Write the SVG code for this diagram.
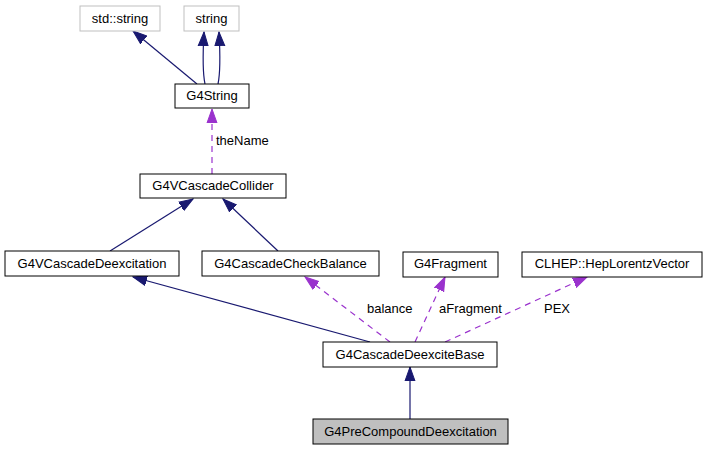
<svg xmlns="http://www.w3.org/2000/svg" width="707" height="451" viewBox="0 0 707 451">
<style>
.box{fill:#ffffff;stroke:#000000;stroke-width:1}
.gbox{fill:#ffffff;stroke:#bfbfbf;stroke-width:1}
.cur{fill:#bfbfbf;stroke:#000000;stroke-width:1}
text{font-family:"Liberation Sans",Arial,sans-serif;font-size:13px;fill:#000000}
.lbl{text-anchor:middle}
.inh{fill:none;stroke:#191970;stroke-width:1.2;marker-end:url(#navy)}
.use{fill:none;stroke:#9a32cd;stroke-width:1.2;stroke-dasharray:6,5;marker-end:url(#purple)}
</style>
<defs>
<marker id="navy" markerUnits="userSpaceOnUse" markerWidth="15" markerHeight="12" refX="14" refY="6" orient="auto"><path d="M0,1 L14,6 L0,11 z" fill="#191970" stroke="#191970"/></marker>
<marker id="purple" markerUnits="userSpaceOnUse" markerWidth="15" markerHeight="12" refX="14" refY="6" orient="auto"><path d="M0,1 L14,6 L0,11 z" fill="#9a32cd" stroke="#9a32cd"/></marker>
</defs>
<g id="connectors">
<path class="inh" d="M197,84 L133,31"/>
<path class="inh" d="M205,84 C202,70 203,50 204,32"/>
<path class="inh" d="M218,84 C221,70 220,50 219,32"/>
<path class="use" d="M212,174 L212,109"/>
<path class="inh" d="M110,251 L193,199"/>
<path class="inh" d="M278,251 L223,199"/>
<path class="inh" d="M370,342 L133,277"/>
<path class="use" d="M390,342 L305,277"/>
<path class="use" d="M415,342 L445,277"/>
<path class="use" d="M445,342 L587,277"/>
<path class="inh" d="M410,419 L410,367"/>
<text x="216" y="145">theName</text>
<text x="367" y="313">balance</text>
<text x="439" y="313">aFragment</text>
<text x="544" y="313">PEX</text>
</g>
<g id="std_string"><rect class="gbox" x="80" y="6" width="80" height="25"/><text class="lbl" x="120" y="23">std::string</text></g>
<g id="string"><rect class="gbox" x="184" y="6" width="55" height="25"/><text class="lbl" x="211.5" y="23">string</text></g>
<g id="G4String"><rect class="box" x="175" y="84" width="74" height="24"/><text class="lbl" x="212" y="100">G4String</text></g>
<g id="G4VCascadeCollider"><rect class="box" x="140" y="174" width="146" height="24"/><text class="lbl" x="213" y="190">G4VCascadeCollider</text></g>
<g id="G4VCascadeDeexcitation"><rect class="box" x="5" y="251" width="174" height="25"/><text class="lbl" x="92" y="268">G4VCascadeDeexcitation</text></g>
<g id="G4CascadeCheckBalance"><rect class="box" x="202" y="251" width="177" height="25"/><text class="lbl" x="290.5" y="268">G4CascadeCheckBalance</text></g>
<g id="G4Fragment"><rect class="box" x="403" y="252" width="95" height="25"/><text class="lbl" x="450.5" y="268">G4Fragment</text></g>
<g id="HepLorentzVector"><rect class="box" x="522" y="252" width="180" height="25"/><text class="lbl" x="612" y="268">CLHEP::HepLorentzVector</text></g>
<g id="G4CascadeDeexciteBase"><rect class="box" x="323" y="342" width="174" height="25"/><text class="lbl" x="410" y="359">G4CascadeDeexciteBase</text></g>
<g id="G4PreCompoundDeexcitation"><rect class="cur" x="313" y="419" width="195" height="25"/><text class="lbl" x="410.5" y="436">G4PreCompoundDeexcitation</text></g>
</svg>
